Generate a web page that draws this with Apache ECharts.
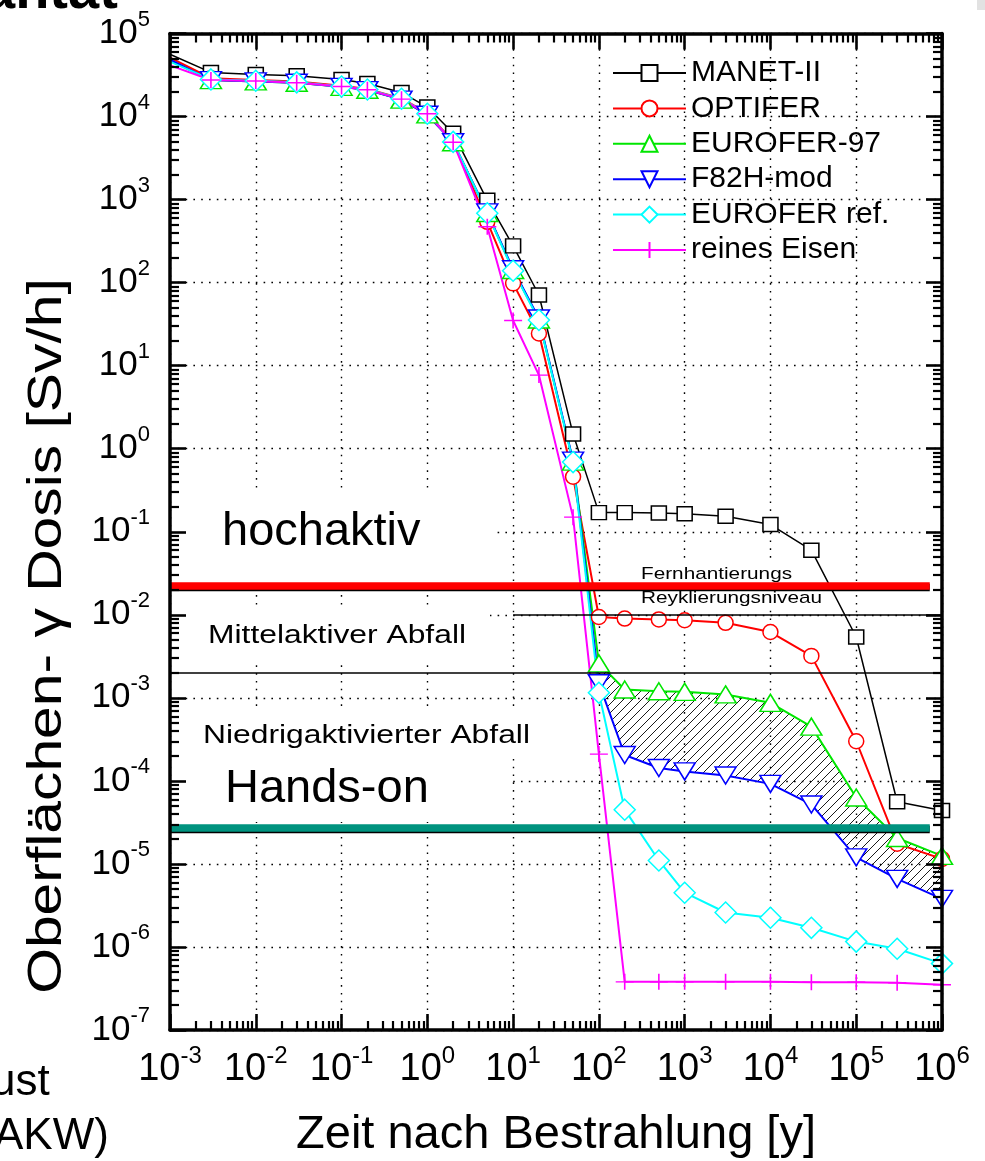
<!DOCTYPE html>
<html><head><meta charset="utf-8">
<script src="https://cdn.jsdelivr.net/npm/echarts@6/dist/echarts.min.js"></script>
<style>html,body{margin:0;padding:0;background:#fff;overflow:hidden}#c{width:985px;height:1161px}</style>
</head><body><div id="c"></div>
<script>
// ---------- data (time after irradiation [y], surface gamma dose [Sv/h]) ----------
const times = [9e-4, 3e-3, 1e-2, 3e-2, 0.1, 0.2, 0.5, 1, 2, 5, 10, 20, 50, 100, 200, 500, 1e3, 3e3, 1e4, 3e4, 1e5, 3e5, 1e6];
const manetII     = [5.9e4, 3.4e4, 3.2e4, 3.1e4, 2.8e4, 2.5e4, 1.95e4, 1.3e4, 6.3e3, 980, 277, 71, 1.5, 0.17, 0.17, 0.168, 0.165, 0.154, 0.122, 0.060, 5.4e-3, 5.6e-5, 4.4e-5];
const optifer     = [5.4e4, 2.9e4, 2.75e4, 2.65e4, 2.35e4, 2.15e4, 1.65e4, 1.1e4, 5.0e3, 540, 98, 24.4, 0.46, 9.4e-3, 9.0e-3, 8.8e-3, 8.6e-3, 8.0e-3, 6.2e-3, 3.2e-3, 3.0e-4, 1.75e-5, 1.15e-5];
const eurofer97   = [5.0e4, 2.75e4, 2.65e4, 2.55e4, 2.28e4, 2.1e4, 1.6e4, 1.06e4, 4.9e3, 690, 142, 36, 0.70, 2.6e-3, 1.26e-3, 1.2e-3, 1.18e-3, 1.1e-3, 8.7e-4, 4.5e-4, 6.3e-5, 2.05e-5, 1.25e-5];
const f82hMod     = [5.1e4, 2.75e4, 2.65e4, 2.55e4, 2.28e4, 2.08e4, 1.6e4, 1.05e4, 4.9e3, 700, 145, 37, 0.72, 1.5e-3, 2.05e-4, 1.43e-4, 1.3e-4, 1.16e-4, 9.2e-5, 5.2e-5, 1.2e-5, 6.6e-6, 3.8e-6];
const euroferRef  = [4.8e4, 2.8e4, 2.7e4, 2.58e4, 2.3e4, 2.12e4, 1.64e4, 1.08e4, 4.95e3, 685, 139, 35.5, 0.69, 1.15e-3, 4.5e-5, 1.1e-5, 4.5e-6, 2.6e-6, 2.25e-6, 1.7e-6, 1.16e-6, 9.5e-7, 6.3e-7];
const reinesEisen = [4.3e4, 2.75e4, 2.68e4, 2.55e4, 2.3e4, 2.1e4, 1.62e4, 1.08e4, 4.9e3, 470, 35, 7.7, 0.15, 2.1e-4, 3.8e-7, 3.8e-7, 3.8e-7, 3.8e-7, 3.8e-7, 3.75e-7, 3.75e-7, 3.7e-7, 3.5e-7];
const seriesNames = ['MANET-II', 'OPTIFER', 'EUROFER-97', 'F82H-mod', 'EUROFER ref.', 'reines Eisen'];
// band between EUROFER-97 and F82H-mod (hatched) starts at this time
const hatchFromTime = 100;
// reference levels [Sv/h] and their time extent
const levelRemote = 2.25e-2, levelRecycle = 1.0e-2, levelIntermediate = 2.0e-3, levelHandsOn = 2.75e-5;
const levelStartTime = 1e-3, levelEndTime = 7.2e5, recycleStartTime = 10, fullEndTime = 1e6;
// axes (decade exponents)
const xExpMin = -3, xExpMax = 6, yExpMin = -7, yExpMax = 5;
const xTitle = 'Zeit nach Bestrahlung [y]';
const yTitle = 'Oberflächen- γ Dosis [Sv/h]';

const FONT = '"Liberation Sans", Arial, Helvetica, sans-serif';
function minorExps(a, b) { const r = []; for (let d = a; d < b; d++) for (let m = 2; m <= 9; m++) r.push(d + Math.log10(m)); return r; }
const xMinor = minorExps(xExpMin, xExpMax), yMinor = minorExps(yExpMin, yExpMax);

function hatch() {
  const s = 9, c = document.createElement('canvas'); c.width = s; c.height = s;
  const g = c.getContext('2d'); g.strokeStyle = '#000'; g.lineWidth = 0.9;
  g.beginPath(); g.moveTo(0, s); g.lineTo(s, 0); g.moveTo(-2, 2); g.lineTo(2, -2); g.moveTo(s - 2, s + 2); g.lineTo(s + 2, s - 2); g.stroke();
  return c;
}
const hatchCanvas = hatch();

const chart = echarts.init(document.getElementById('c'), null, { renderer: 'canvas' });

const styles = [
  { data: manetII, color: '#000000', symbol: 'rect', size: [15, 14], lw: 1.5 },
  { data: optifer, color: '#ff0000', symbol: 'circle', size: 15, lw: 2 },
  { data: eurofer97, color: '#00e600', symbol: 'triangle', size: [21, 17], lw: 2 },
  { data: f82hMod, color: '#0000ff', symbol: 'triangle', rotate: 180, size: [21, 17], lw: 2 },
  { data: euroferRef, color: '#00ffff', symbol: 'diamond', size: [21, 21], lw: 2 },
  { data: reinesEisen, color: '#ff00ff', symbol: 'path://M10,0L10,20M0,10L20,10', size: [18, 16], lw: 2 }
];
const dataSeries = styles.map((s, i) => ({
  type: 'line', name: seriesNames[i], xAxisIndex: 0, yAxisIndex: 0, z: 2,
  data: times.map((t, k) => [t, s.data[k]]),
  symbol: s.symbol, symbolSize: s.size, symbolRotate: s.rotate || 0, showAllSymbol: true,
  itemStyle: { color: '#ffffff', borderColor: s.color, borderWidth: 1.5, opacity: 1 },
  lineStyle: { color: s.color, width: s.lw },
  emphasis: { disabled: true }, animation: false, silent: true
}));

const hatchStart = times.indexOf(hatchFromTime);
const hatchSeries = {
  type: 'custom', name: 'band', xAxisIndex: 0, yAxisIndex: 0, coordinateSystem: 'cartesian2d', z: 1.9, silent: true,
  data: [[times[hatchStart], f82hMod[hatchStart]]],
  renderItem: function (params, api) {
    const pts = [];
    for (let i = hatchStart; i < times.length; i++) pts.push(api.coord([times[i], eurofer97[i]]));
    for (let i = times.length - 1; i >= hatchStart; i--) pts.push(api.coord([times[i], f82hMod[i]]));
    return { type: 'polygon', shape: { points: pts }, style: { fill: { image: hatchCanvas, repeat: 'repeat' }, stroke: null } };
  },
  animation: false
};

const edge = { shadowColor: '#000', shadowOffsetY: 1.6, shadowBlur: 0 };
const levelSeries = {
  type: 'line', name: 'levels', xAxisIndex: 0, yAxisIndex: 0, z: 3, data: [], silent: true, animation: false,
  markLine: {
    silent: true, animation: false, symbol: ['none', 'none'], label: { show: false }, emphasis: { disabled: true },
    data: [
      [{ coord: [levelStartTime, levelRemote], lineStyle: Object.assign({ color: '#ff0000', width: 7.5, type: 'solid' }, edge) }, { coord: [levelEndTime, levelRemote] }],
      [{ coord: [levelStartTime, levelHandsOn], lineStyle: Object.assign({ color: '#00937f', width: 7.5, type: 'solid' }, edge) }, { coord: [levelEndTime, levelHandsOn] }],
      [{ coord: [recycleStartTime, levelRecycle], lineStyle: { color: '#000', width: 1.6, type: 'solid' } }, { coord: [fullEndTime, levelRecycle] }],
      [{ coord: [levelStartTime, levelIntermediate], lineStyle: { color: '#000', width: 1.6, type: 'solid' } }, { coord: [fullEndTime, levelIntermediate] }]
    ]
  }
};

const dotted = { show: true, lineStyle: { color: '#000', width: 1.4, type: [1.6, 6.2] } };
function expLabel(v) { return '{b|10}{s|' + Math.round(Math.log10(v)) + '}'; }
function deco(pos, min, max, major, extra) {
  return {
    type: 'value', position: pos, min: min, max: max, interval: 1, z: 5, silent: true,
    axisLine: { show: major, onZero: false, lineStyle: { color: '#000', width: 3.5 } },
    axisTick: major ? { show: true, inside: true, length: 16, lineStyle: { color: '#000', width: 2.6 } }
                    : { show: true, inside: true, length: 9, customValues: extra, lineStyle: { color: '#000', width: 2.2 } },
    axisLabel: { show: false }, splitLine: { show: false }, minorTick: { show: false }
  };
}

const option = {
  backgroundColor: '#ffffff',
  animation: false,
  grid: { left: 170, top: 33.5, right: 43, bottom: 131, containLabel: false, outerBoundsMode: 'none' },
  legend: {
    orient: 'vertical', left: 607, top: 53, itemWidth: 73, itemHeight: 20, itemGap: 5.4,
    selectedMode: false, data: seriesNames,
    textStyle: { fontSize: 30, fontFamily: FONT, color: '#000', lineHeight: 20 }
  },
  xAxis: [
    {
      type: 'log', logBase: 10, min: Math.pow(10, xExpMin), max: Math.pow(10, xExpMax), interval: 1, position: 'bottom', z: 0,
      axisLine: { show: false, onZero: false }, axisTick: { show: false }, minorTick: { show: false },
      splitLine: dotted,
      axisLabel: {
        margin: 14, color: '#000', formatter: expLabel,
        rich: { b: { fontSize: 38, fontFamily: FONT, color: '#000', lineHeight: 52, verticalAlign: 'middle' },
                s: { fontSize: 24, fontFamily: FONT, color: '#000', lineHeight: 24, verticalAlign: 'top' } }
      },
      name: xTitle, nameLocation: 'middle', nameGap: 82,
      nameTextStyle: { fontSize: 47, fontFamily: FONT, color: '#000' }
    },
    deco('bottom', xExpMin, xExpMax, true),
    deco('bottom', xExpMin, xExpMax, false, xMinor),
    deco('top', xExpMin, xExpMax, true),
    deco('top', xExpMin, xExpMax, false, xMinor)
  ],
  yAxis: [
    {
      type: 'log', logBase: 10, min: Math.pow(10, yExpMin), max: Math.pow(10, yExpMax), interval: 1, position: 'left', z: 0,
      axisLine: { show: false, onZero: false }, axisTick: { show: false }, minorTick: { show: false },
      splitLine: dotted,
      axisLabel: {
        margin: 20, color: '#000', formatter: expLabel,
        rich: { b: { fontSize: 35, fontFamily: FONT, color: '#000', lineHeight: 50, verticalAlign: 'middle' },
                s: { fontSize: 22, fontFamily: FONT, color: '#000', lineHeight: 22, verticalAlign: 'top' } }
      }
    },
    deco('left', yExpMin, yExpMax, true),
    deco('left', yExpMin, yExpMax, false, yMinor),
    deco('right', yExpMin, yExpMax, true),
    deco('right', yExpMin, yExpMax, false, yMinor)
  ],
  graphic: {
    elements: [
      // white label boxes that interrupt the grid
      { type: 'rect', z: 1, silent: true, shape: { x: 174, y: 489, width: 318, height: 92 }, style: { fill: '#fff' } },
      { type: 'rect', z: 1, silent: true, shape: { x: 174, y: 609, width: 316, height: 50 }, style: { fill: '#fff' } },
      { type: 'rect', z: 1, silent: true, shape: { x: 174, y: 712, width: 361, height: 41 }, style: { fill: '#fff' } },
      { type: 'rect', z: 1, silent: true, shape: { x: 174, y: 753, width: 333, height: 69 }, style: { fill: '#fff' } },
      { type: 'rect', z: 1, silent: true, shape: { x: 639, y: 563, width: 156, height: 19 }, style: { fill: '#fff' } },
      { type: 'rect', z: 4, silent: true, shape: { x: 639, y: 590.5, width: 186, height: 18 }, style: { fill: '#fff' } },
      { type: 'text', z: 1, silent: true, x: 222, y: 548 - 0.35 * 47, style: { text: 'hochaktiv', x: 0, y: 0, font: '47px ' + FONT, fill: '#000', align: 'left', verticalAlign: 'middle' } },
      { type: 'text', z: 1, silent: true, x: 641, y: 580.5 - 0.35 * 17, scaleX: 1.22, style: { text: 'Fernhantierungs', x: 0, y: 0, font: '17px ' + FONT, fill: '#000', align: 'left', verticalAlign: 'middle' } },
      { type: 'text', z: 4, silent: true, x: 641, y: 604 - 0.35 * 17, scaleX: 1.22, style: { text: 'Reyklierungsniveau', x: 0, y: 0, font: '17px ' + FONT, fill: '#000', align: 'left', verticalAlign: 'middle' } },
      { type: 'text', z: 1, silent: true, x: 208, y: 645 - 0.35 * 26.5, scaleX: 1.2, style: { text: 'Mittelaktiver Abfall', x: 0, y: 0, font: '26.5px ' + FONT, fill: '#000', align: 'left', verticalAlign: 'middle' } },
      { type: 'text', z: 1, silent: true, x: 203, y: 745 - 0.35 * 26.5, scaleX: 1.2, style: { text: 'Niedrigaktivierter Abfall', x: 0, y: 0, font: '26.5px ' + FONT, fill: '#000', align: 'left', verticalAlign: 'middle' } },
      { type: 'text', z: 1, silent: true, x: 225, y: 805 - 0.35 * 47, style: { text: 'Hands-on', x: 0, y: 0, font: '47px ' + FONT, fill: '#000', align: 'left', verticalAlign: 'middle' } },
      // y-axis title (rotated, letter-spaced look)
      { type: 'text', silent: true, x: 47, y: 636, rotation: Math.PI / 2, scaleX: 1.2, style: { text: yTitle, x: 0, y: 0, font: '49px ' + FONT, fill: '#000', align: 'center', verticalAlign: 'middle' } },
      // slide fragments around the chart
      { type: 'text', silent: true, x: -16, y: 12 - 0.35 * 56, style: { text: 'antat', x: 0, y: 0, font: 'bold 56px ' + FONT, fill: '#000', align: 'left', verticalAlign: 'middle' } },
      { type: 'text', silent: true, x: -9, y: 1098 - 0.35 * 44, style: { text: 'ust', x: 0, y: 0, font: '44px ' + FONT, fill: '#000', align: 'left', verticalAlign: 'middle' } },
      { type: 'text', silent: true, x: -6, y: 1152 - 0.35 * 44, style: { text: 'AKW)', x: 0, y: 0, font: '44px ' + FONT, fill: '#000', align: 'left', verticalAlign: 'middle' } },
      { type: 'rect', silent: true, shape: { x: 977, y: 0, width: 8, height: 10 }, style: { fill: '#e2e2e2' } }
    ]
  },
  series: [hatchSeries].concat(dataSeries).concat([levelSeries])
};
chart.setOption(option);
</script>
</body></html>
